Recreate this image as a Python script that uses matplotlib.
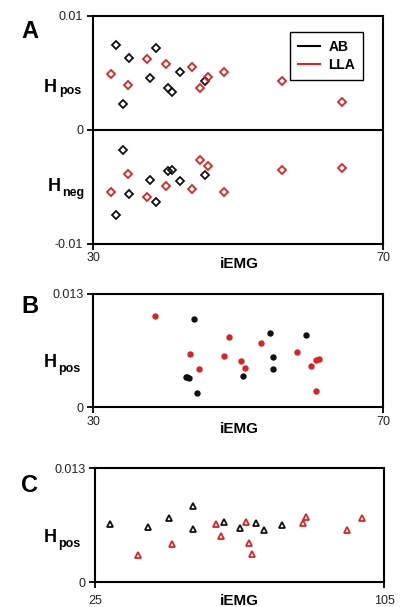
import numpy as np
import matplotlib
matplotlib.use('Agg')
import matplotlib.pyplot as plt
from matplotlib.lines import Line2D

plt.rcParams['font.family'] = ['Liberation Sans', 'DejaVu Sans']

RED = '#dc2323'
BLACK = '#111111'

# A: Hpos / Hneg per subject (paired by iEMG)
ab_x_a = [33.2, 34.2, 35.0, 37.8, 38.7, 40.3, 40.9, 42.0, 45.4]
ab_hpos_a = [0.00739, 0.00223, 0.00628, 0.00454, 0.00716, 0.00364, 0.00328, 0.00511, 0.00428]
ab_hneg_a = [-0.00747, -0.00178, -0.00561, -0.00439, -0.00636, -0.00364, -0.00352, -0.00445, -0.00392]

lla_x_a = [32.5, 34.8, 37.5, 40.1, 43.6, 44.8, 45.8, 48.1, 56.1, 64.4]
lla_hpos_a = [0.00489, 0.00393, 0.00621, 0.00577, 0.00548, 0.00370, 0.00467, 0.00504, 0.00428, 0.00243]
lla_hneg_a = [-0.00544, -0.00387, -0.00590, -0.00492, -0.00520, -0.00262, -0.00314, -0.00544, -0.00352, -0.00335]

# B
ab_x_b = [43.9, 42.8, 43.0, 43.3, 44.4, 50.7, 54.4, 54.8, 54.8, 59.4]
ab_h_b = [0.0101, 0.00348, 0.00344, 0.00340, 0.00168, 0.00363, 0.00853, 0.00577, 0.00436, 0.00830]
lla_x_b = [38.5, 43.4, 44.6, 48.1, 48.7, 50.4, 50.9, 53.2, 58.2, 60.0, 60.8, 61.2, 60.8]
lla_h_b = [0.01044, 0.00608, 0.00436, 0.00585, 0.00807, 0.00531, 0.00454, 0.00734,
           0.00635, 0.00477, 0.00539, 0.00554, 0.00184]

# C
ab_x_c = [29.1, 39.7, 45.5, 52.2, 52.2, 60.7, 65.1, 69.5, 71.8, 76.6]
ab_h_c = [0.00668, 0.00634, 0.00730, 0.00870, 0.00611, 0.00684, 0.00623, 0.00676, 0.00596, 0.00653]
lla_x_c = [37.0, 46.3, 58.4, 59.8, 66.8, 67.6, 68.4, 82.5, 83.4, 94.6, 98.8]
lla_h_c = [0.00308, 0.00433, 0.00668, 0.00528, 0.00684, 0.00448, 0.00319, 0.00676,
           0.00741, 0.00596, 0.00737]

W, H = 406, 607
fig = plt.figure(figsize=(W / 100, H / 100), dpi=100)


def px(x, y):
    return x / W, 1 - y / H


def style_axes(ax, xlim, ylim, yticks, ylabels, xlabels):
    ax.set_xlim(*xlim)
    ax.set_ylim(*ylim)
    ax.set_xticks(xlim)
    ax.set_xticklabels(xlabels)
    ax.set_yticks(yticks)
    ax.set_yticklabels(ylabels)
    for s in ax.spines.values():
        s.set_linewidth(1.5)
    ax.tick_params(direction='out', length=4, width=1.3, labelsize=9,
                   labelcolor='#222222')
    ax.tick_params(axis='y', pad=3)
    ax.tick_params(axis='x', pad=2)


def hlabel(x, y, sub, dx, dy):
    fig.text(*px(x, y), 'H', fontsize=13, fontweight='bold', va='baseline')
    fig.text(*px(x + dx, y + dy), sub, fontsize=9, fontweight='bold', va='baseline')


# Panel A
axA = fig.add_axes([93 / W, 1 - 244 / H, 290 / W, 228.3 / H])
mk = dict(marker='D', ms=3.6, mfc='none', mew=1.3, ls='none')
axA.plot(ab_x_a, ab_hpos_a, mec=BLACK, **mk)
axA.plot(ab_x_a, ab_hneg_a, mec=BLACK, **mk)
axA.plot(lla_x_a, lla_hpos_a, mec=RED, **mk)
axA.plot(lla_x_a, lla_hneg_a, mec=RED, **mk)
axA.axhline(0, color='black', lw=1.5)
style_axes(axA, (30, 70), (-0.01, 0.01), [-0.01, 0, 0.01], ['-0.01', '0', '0.01'], ['30', '70'])
handles = [Line2D([], [], color='black', lw=1.5), Line2D([], [], color=RED, lw=1.5)]
leg = axA.legend(handles, ['AB', 'LLA'], loc='upper right', bbox_to_anchor=(0.955, 0.958),
                 frameon=True, fancybox=False, edgecolor='black', framealpha=1,
                 handlelength=1.6, handletextpad=0.6, borderpad=0.55, labelspacing=0.3,
                 prop={'weight': 'bold', 'size': 10})
leg.get_frame().set_linewidth(1.0)

# Panel B
axB = fig.add_axes([93 / W, 1 - 407.3 / H, 290 / W, 113.3 / H])
axB.plot(ab_x_b, ab_h_b, 'o', ms=4.6, color=BLACK, mec='none')
axB.plot(lla_x_b, lla_h_b, 'o', ms=4.6, color=RED, mec='none')
style_axes(axB, (30, 70), (0, 0.013), [0, 0.013], ['0', '0.013'], ['30', '70'])

# Panel C
axC = fig.add_axes([95 / W, 1 - 582.3 / H, 289.3 / W, 114 / H])
mk = dict(marker='^', ms=4.6, mfc='none', mew=1.3, ls='none')
axC.plot(ab_x_c, ab_h_c, mec=BLACK, **mk)
axC.plot(lla_x_c, lla_h_c, mec=RED, **mk)
style_axes(axC, (25, 105), (0, 0.013), [0, 0.013], ['0', '0.013'], ['25', '105'])
axC.tick_params(axis='x', pad=5)

# panel letters and axis labels
for letter, y in [('A', 38.3), ('B', 313.3), ('C', 492)]:
    fig.text(*px(21.5, y), letter, fontsize=17, fontweight='bold', va='baseline')

hlabel(44, 92.3, 'pos', 15, 1.5)
hlabel(47.7, 191, 'neg', 14, 5)
hlabel(44, 367, 'pos', 14, 5)
hlabel(44, 542, 'pos', 14, 5)

for y in [268, 433, 605]:
    fig.text(*px(239, y), 'iEMG', fontsize=11, fontweight='bold', ha='center', va='baseline')

fig.savefig('out.png', dpi=100)
